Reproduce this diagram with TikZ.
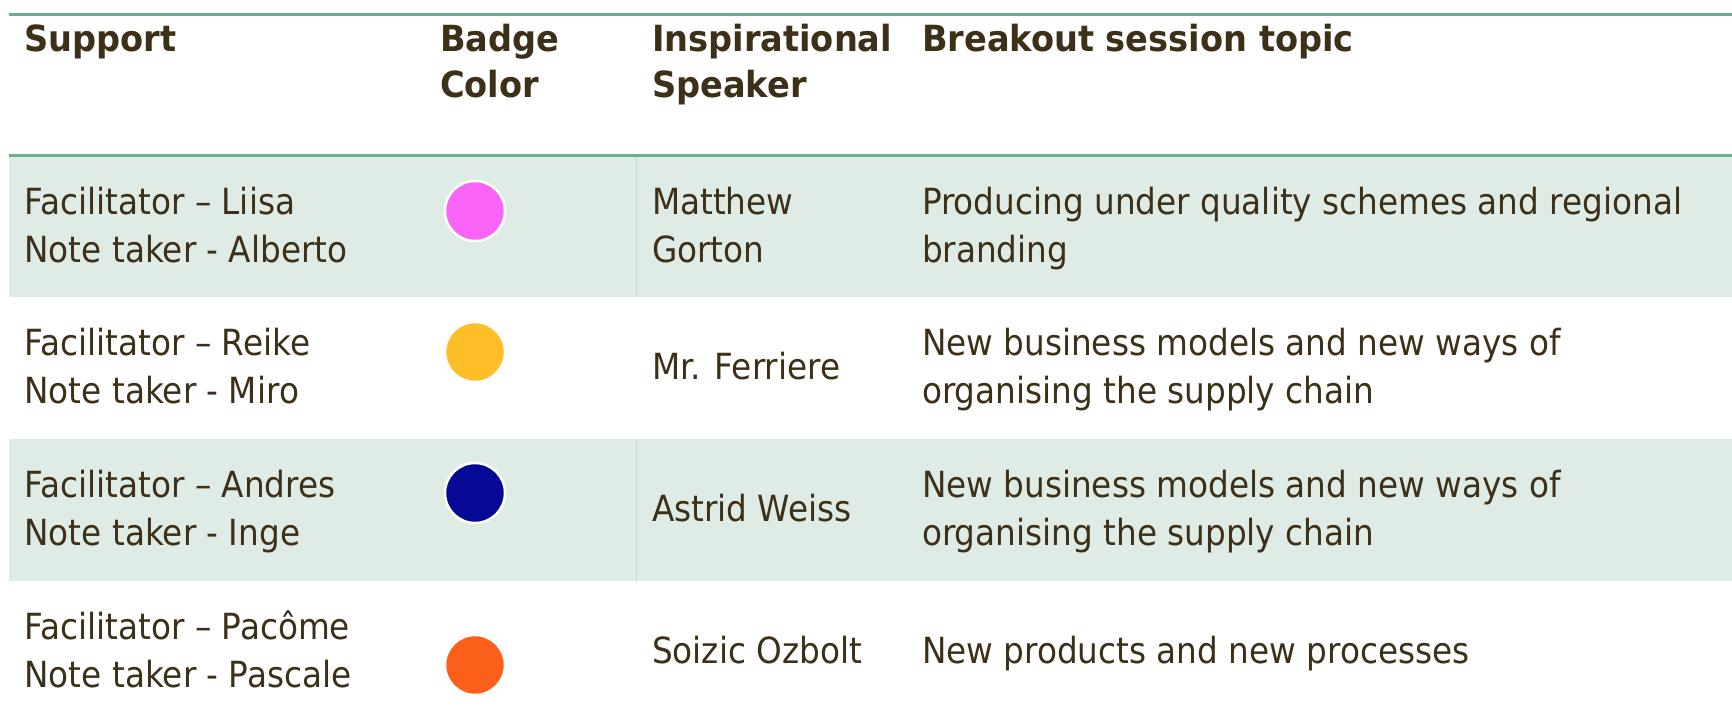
\documentclass[tikz,border=0pt]{standalone}
\usepackage{fontspec}
\setmainfont{DejaVu Sans}[FakeStretch=0.908]
\newfontfamily\hdrfont{DejaVu Sans}[FakeStretch=0.934]
\definecolor{txt}{HTML}{3D3019}
\definecolor{rule}{HTML}{6BAE8B}
\definecolor{band}{HTML}{DFECE5}
\definecolor{sepc}{HTML}{C5DDD0}
\definecolor{bpink}{HTML}{F963F6}
\definecolor{byellow}{HTML}{FDBE28}
\definecolor{bblue}{HTML}{040A96}
\definecolor{borange}{HTML}{FB5F19}
\begin{document}
\begin{tikzpicture}[x=1pt,y=-1pt,
  every node/.style={inner sep=0pt, outer sep=0pt, anchor=base west, text=txt,
    font=\fontsize{36}{43}\selectfont},
  hdr/.style={font=\fontsize{36}{43}\hdrfont\bfseries},
  badge/.style={circle, anchor=center, draw=white, line width=2.5pt, minimum size=60pt},
  toprule/.style={draw=rule, line width=3pt},
  colsep/.style={draw=sepc, line width=1.2pt}]
\path[use as bounding box, fill=white] (0,0) rectangle (1732,718);
% shaded rows
\fill[band] (9,157) rectangle (1732,297);
\fill[band] (9,439) rectangle (1732,581);
% rules
\coordinate (t1) at (9,14.5); \coordinate (t2) at (1732,14.5);
\coordinate (h1) at (9,155.5); \coordinate (h2) at (1732,155.5);
\draw[toprule] (t1) -- (t2);
\draw[toprule] (h1) -- (h2);
\coordinate (v1a) at (636.5,157); \coordinate (v1b) at (636.5,297);
\coordinate (v3a) at (636.5,439); \coordinate (v3b) at (636.5,581);
\draw[colsep] (v1a) -- (v1b);
\draw[colsep] (v3a) -- (v3b);
% header
\node[hdr] (hS) at (24.5,51.7) {Support};
\node[hdr] (hB1) at (440,51.7) {Badge};
\node[hdr] (hB2) at (440,97.7) {Color};
\node[hdr] (hI1) at (652,51.7) {Inspirational};
\node[hdr] (hI2) at (652,97.7) {Speaker};
\node[hdr] (hT) at (922,51.7) {Breakout session topic};
% row 1
\node (s1a) at (24.5,214) {Facilitator – Liisa};
\node (s1b) at (24.5,262) {Note taker - Alberto};
\node[badge, fill=bpink] (b1) at (475,211) {};
\node (p1a) at (652,214) {Matthew};
\node (p1b) at (652,262) {Gorton};
\node (t1a) at (922,214) {Producing under quality schemes and regional};
\node (t1b) at (922,262) {branding};
% row 2
\node (s2a) at (24.5,355.5) {Facilitator – Reike};
\node (s2b) at (24.5,403.5) {Note taker - Miro};
\node[badge, fill=byellow] (b2) at (475,352) {};
\node (p2) at (652,379.5) {Mr. Ferriere};
\node (t2a) at (922,355.5) {New business models and new ways of};
\node (t2b) at (922,403.5) {organising the supply chain};
% row 3
\node (s3a) at (24.5,497) {Facilitator – Andres};
\node (s3b) at (24.5,545) {Note taker - Inge};
\node[badge, fill=bblue] (b3) at (475,493) {};
\node (p3) at (652,521.5) {Astrid Weiss};
\node (t3a) at (922,497) {New business models and new ways of};
\node (t3b) at (922,545) {organising the supply chain};
% row 4
\node (s4a) at (24.5,639) {Facilitator – Pacôme};
\node (s4b) at (24.5,687) {Note taker - Pascale};
\node[badge, fill=borange] (b4) at (475,665) {};
\node (p4) at (652,663) {Soizic Ozbolt};
\node (t4) at (922,663) {New products and new processes};
\end{tikzpicture}
\end{document}
